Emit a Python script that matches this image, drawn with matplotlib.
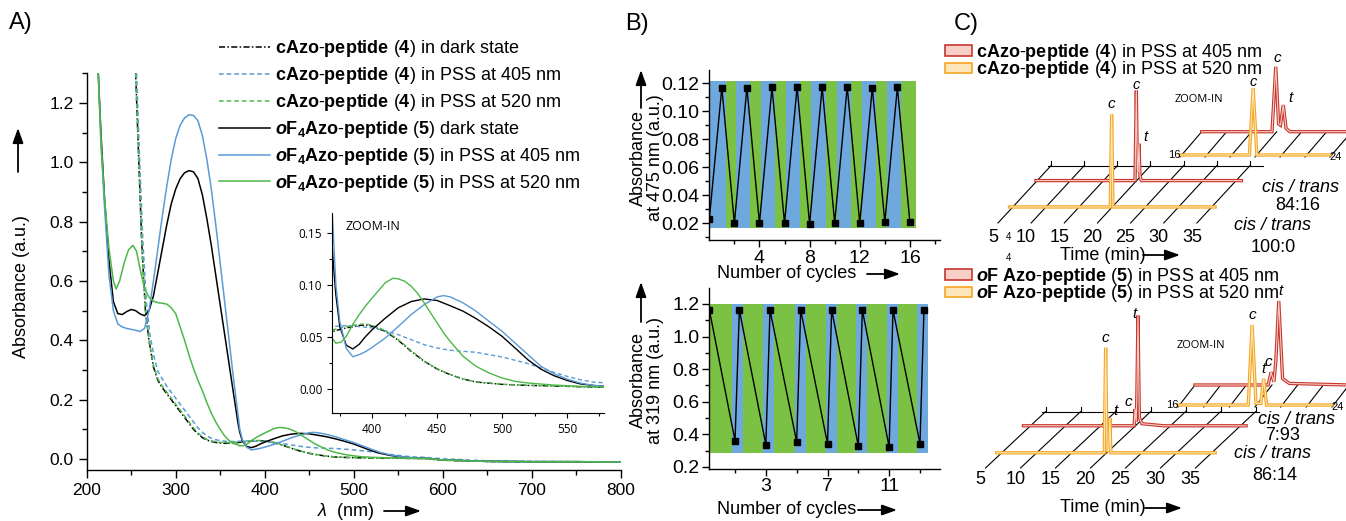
import numpy as np
import matplotlib
matplotlib.use("Agg")
import matplotlib.pyplot as plt
import matplotlib.transforms as mtransforms
from matplotlib.patches import Patch
from matplotlib.ticker import MultipleLocator, FixedLocator, FormatStrFormatter

plt.rcParams["font.family"] = ["Liberation Sans", "DejaVu Sans"]
plt.rcParams["mathtext.fontset"] = "custom"
plt.rcParams["mathtext.rm"] = "Liberation Sans"
plt.rcParams["mathtext.it"] = "Liberation Sans:italic"
plt.rcParams["mathtext.bf"] = "Liberation Sans:bold"
plt.rcParams["mathtext.bfit"] = "Liberation Sans:bold:italic"

# ---------------- panel A: spectra, (wavelength nm, absorbance) ----------------
cazo_dark = [(255, 1.30), (258, 1.05), (262, 0.72), (266, 0.50), (270, 0.40), (275, 0.31),
             (280, 0.265), (285, 0.24), (290, 0.22), (295, 0.20), (300, 0.18), (305, 0.16),
             (310, 0.14), (315, 0.12), (320, 0.10), (325, 0.085), (330, 0.072), (335, 0.064),
             (340, 0.059), (345, 0.056), (350, 0.054), (355, 0.053), (360, 0.053), (365, 0.054),
             (370, 0.0555), (380, 0.0587), (390, 0.061), (395, 0.0615), (400, 0.0603),
             (410, 0.0554), (420, 0.0468), (430, 0.0362), (440, 0.0266), (450, 0.0192),
             (460, 0.0138), (470, 0.0096), (480, 0.0067), (500, 0.0045), (520, 0.0035),
             (540, 0.0029), (560, 0.0022), (580, 0.0016), (600, -0.004), (650, -0.008),
             (700, -0.009), (750, -0.009), (800, -0.010)]
cazo_405 = [(256, 1.30), (259, 1.05), (263, 0.74), (267, 0.53), (271, 0.42), (276, 0.34),
            (280, 0.295), (285, 0.27), (290, 0.245), (295, 0.225), (300, 0.205), (305, 0.185),
            (310, 0.165), (315, 0.145), (320, 0.125), (325, 0.105), (330, 0.09), (335, 0.078),
            (340, 0.07), (345, 0.065), (350, 0.062), (355, 0.06), (360, 0.059), (365, 0.059),
            (370, 0.060), (380, 0.061), (390, 0.060), (400, 0.0587), (410, 0.056),
            (420, 0.0522), (430, 0.0474), (440, 0.0426), (450, 0.0394), (460, 0.0372),
            (470, 0.0362), (480, 0.0353), (490, 0.033), (500, 0.0308), (510, 0.0276),
            (520, 0.0244), (530, 0.0202), (540, 0.016), (550, 0.0122), (560, 0.009),
            (570, 0.0067), (580, 0.0058), (600, 0.001), (650, -0.006), (700, -0.008),
            (750, -0.009), (800, -0.009)]
cazo_520 = [(255, 1.30), (258, 1.04), (262, 0.71), (266, 0.50), (270, 0.40), (275, 0.315),
            (280, 0.27), (285, 0.245), (290, 0.225), (295, 0.205), (300, 0.185), (305, 0.165),
            (310, 0.145), (315, 0.125), (320, 0.105), (325, 0.088), (330, 0.075), (335, 0.066),
            (340, 0.061), (345, 0.058), (350, 0.056), (355, 0.055), (360, 0.055), (365, 0.056),
            (370, 0.057), (380, 0.060), (390, 0.0622), (395, 0.0625), (400, 0.0612),
            (410, 0.0562), (420, 0.0475), (430, 0.0368), (440, 0.027), (450, 0.0195),
            (460, 0.014), (470, 0.0098), (480, 0.0068), (500, 0.0046), (520, 0.0036),
            (540, 0.003), (560, 0.0023), (580, 0.0018), (600, -0.004), (650, -0.008),
            (700, -0.009), (750, -0.009), (800, -0.010)]
of4_dark = [(213, 1.30), (216, 1.10), (220, 0.88), (225, 0.67), (230, 0.53), (235, 0.49),
            (240, 0.487), (245, 0.497), (250, 0.504), (255, 0.50), (260, 0.489), (265, 0.483),
            (270, 0.50), (275, 0.55), (280, 0.63), (285, 0.71), (290, 0.79), (295, 0.86),
            (300, 0.91), (305, 0.945), (310, 0.965), (315, 0.972), (320, 0.968), (325, 0.945),
            (330, 0.89), (335, 0.81), (340, 0.72), (345, 0.62), (350, 0.52), (355, 0.42),
            (360, 0.32), (365, 0.22), (370, 0.121), (372, 0.09), (375, 0.06), (380, 0.042),
            (385, 0.0385), (390, 0.043), (395, 0.0506), (400, 0.057), (410, 0.068),
            (420, 0.078), (430, 0.084), (440, 0.0865), (450, 0.085), (460, 0.080),
            (470, 0.0747), (480, 0.0676), (490, 0.0596), (500, 0.0506), (510, 0.0394),
            (520, 0.028), (530, 0.019), (540, 0.0128), (550, 0.0083), (560, 0.005),
            (570, 0.0035), (580, 0.0025), (600, -0.003), (650, -0.008), (700, -0.009),
            (750, -0.009), (800, -0.010)]
of4_405 = [(213, 1.30), (216, 1.08), (220, 0.85), (225, 0.62), (230, 0.50), (235, 0.455),
           (240, 0.445), (245, 0.44), (250, 0.437), (255, 0.434), (260, 0.43), (265, 0.44),
           (270, 0.50), (275, 0.60), (280, 0.71), (285, 0.82), (290, 0.92), (295, 1.01),
           (300, 1.08), (305, 1.125), (310, 1.15), (315, 1.16), (320, 1.158), (325, 1.14),
           (330, 1.09), (335, 1.01), (340, 0.91), (345, 0.79), (350, 0.66), (355, 0.53),
           (360, 0.40), (365, 0.27), (370, 0.15), (372, 0.10), (375, 0.065), (380, 0.039),
           (385, 0.031), (390, 0.033), (395, 0.036), (400, 0.040), (410, 0.049), (420, 0.060),
           (430, 0.0715), (440, 0.081), (450, 0.0885), (455, 0.0897), (460, 0.0885),
           (470, 0.0827), (480, 0.0747), (490, 0.065), (500, 0.0554), (510, 0.0442),
           (520, 0.033), (530, 0.0218), (540, 0.0147), (550, 0.0096), (560, 0.0058),
           (570, 0.0035), (580, 0.0026), (600, -0.003), (650, -0.008), (700, -0.009),
           (750, -0.009), (800, -0.010)]
of4_520 = [(213, 1.30), (216, 1.06), (220, 0.88), (225, 0.71), (230, 0.60), (233, 0.573),
           (237, 0.60), (242, 0.66), (247, 0.705), (252, 0.72), (256, 0.70), (260, 0.64),
           (265, 0.575), (270, 0.545), (275, 0.532), (280, 0.527), (285, 0.525), (290, 0.522),
           (295, 0.51), (300, 0.49), (305, 0.445), (310, 0.40), (315, 0.35), (320, 0.305),
           (325, 0.265), (330, 0.23), (335, 0.19), (340, 0.155), (345, 0.125), (350, 0.10),
           (355, 0.078), (360, 0.062), (365, 0.052), (370, 0.0474), (372, 0.044), (376, 0.045),
           (380, 0.0506), (385, 0.062), (390, 0.0715), (395, 0.080), (400, 0.0875),
           (410, 0.102), (416, 0.1064), (420, 0.1058), (425, 0.1035), (430, 0.0987),
           (435, 0.0917), (440, 0.0827), (445, 0.073), (450, 0.0635), (455, 0.0538),
           (460, 0.0458), (470, 0.0314), (480, 0.0218), (490, 0.0154), (500, 0.0106),
           (510, 0.0074), (520, 0.0058), (540, 0.0038), (560, 0.0026), (580, 0.002),
           (600, -0.003), (650, -0.008), (700, -0.009), (750, -0.009), (800, -0.010)]

# ---------------- panel B: switching cycles ----------------
cyc_475 = np.arange(17)
abs_475 = [0.0229, 0.1169, 0.0200, 0.1169, 0.0200, 0.1171, 0.0200, 0.1174, 0.0195,
           0.1174, 0.0202, 0.1176, 0.0200, 0.1167, 0.0207, 0.1171, 0.0207]
stripes_475 = [0, 1.30, 2.13, 3.27, 4.12, 5.27, 6.14, 7.26, 8.14, 9.28, 10.16, 11.30,
               12.18, 13.30, 14.18, 15.32, 16.49]          # blue first
cyc_319 = [-0.665, 1, 1.28, 3, 3.27, 5, 5.26, 7, 7.27, 9, 9.26, 11, 11.25, 13, 13.26]
abs_319 = [1.163, 0.360, 1.163, 0.337, 1.163, 0.353, 1.163, 0.343, 1.163, 0.329, 1.163,
           0.323, 1.163, 0.343, 1.163]
stripes_319 = [-0.67, 0.78, 1.54, 2.84, 3.56, 4.90, 5.63, 6.88, 7.59, 8.84, 9.57, 10.87,
               11.59, 12.78, 13.50]                          # green first

# ---------------- panel C: HPLC traces, (time min, rel. intensity) ----------------
c4_405_t = [4.8, 16, 19.75, 19.95, 20.1, 20.2, 20.35, 20.5, 20.7, 24, 35.8]
c4_405_i = [0, 0, 0, 1.0, 0.12, 0.10, 0.41, 0.05, 0, 0, 0]
c4_520_t = [4.5, 16, 19.7, 19.9, 20.1, 24, 35.5]
c4_520_i = [0, 0, 0, 1.03, 0, 0, 0]
f5_405_t = [4.0, 16, 19.8, 19.95, 20.1, 20.2, 20.35, 20.55, 20.9, 24, 35.8]
f5_405_i = [0, 0, 0, 0.16, 0.04, 0.3, 1.05, 0.08, 0.02, 0, 0]
f5_520_t = [4.3, 16, 19.65, 19.85, 20.05, 20.3, 20.45, 20.6, 24, 35.5]
f5_520_i = [0, 0, 0, 1.0, 0.02, 0.02, 0.33, 0, 0, 0]
time_ticks = [5, 10, 15, 20, 25, 30, 35]

BLUE = "#5b9bd5"
GREEN = "#4db848"
B_BLUE = "#6ea8dc"
B_GREEN = "#7bc143"
RED = "#c8372d"
RED_L = "#f7cfc8"
ORG = "#f5a623"
ORG_L = "#fde7b8"

W, H = 1346, 521
fig = plt.figure(figsize=(W / 100, H / 100), dpi=100)


def box(left, top, right, bottom):
    return [left / W, 1 - bottom / H, (right - left) / W, (bottom - top) / H]


def style(ax, size, lw=1.0, major=6, minor=3.5, pad=3.5):
    for s in ["top", "right"]:
        ax.spines[s].set_visible(False)
    for s in ["left", "bottom"]:
        ax.spines[s].set_linewidth(lw)
    ax.tick_params(which="both", direction="out", width=lw, labelsize=size, pad=pad)
    ax.tick_params(which="major", length=major)
    ax.tick_params(which="minor", length=minor)


def stripes(ax, edges, ylo, yhi, first, second):
    edges = np.asarray(edges, float)
    cols = [first if i % 2 == 0 else second for i in range(len(edges) - 1)]
    ax.bar(edges[:-1], yhi - ylo, width=np.diff(edges), bottom=ylo, align="edge",
           color=cols, lw=0, zorder=1)


# ---- A main
axA = fig.add_axes(box(86.7, 73.3, 620.7, 470))
dash_dot = (0, (4, 1.5, 1, 1.5))
dashed = (0, (3, 2))
series = [
    (cazo_dark, "k", dash_dot,
     r"$\mathbf{cAzo}$-$\mathbf{peptide}$ ($\mathbf{4}$) in dark state"),
    (cazo_405, BLUE, dashed,
     r"$\mathbf{cAzo}$-$\mathbf{peptide}$ ($\mathbf{4}$) in PSS at 405 nm"),
    (cazo_520, GREEN, dashed,
     r"$\mathbf{cAzo}$-$\mathbf{peptide}$ ($\mathbf{4}$) in PSS at 520 nm"),
    (of4_dark, "k", "-",
     r"$\mathbfit{o}\mathbf{F_4Azo}$-$\mathbf{peptide}$ ($\mathbf{5}$) dark state"),
    (of4_405, BLUE, "-",
     r"$\mathbfit{o}\mathbf{F_4Azo}$-$\mathbf{peptide}$ ($\mathbf{5}$) in PSS at 405 nm"),
    (of4_520, GREEN, "-",
     r"$\mathbfit{o}\mathbf{F_4Azo}$-$\mathbf{peptide}$ ($\mathbf{5}$) in PSS at 520 nm"),
]
for pts, col, ls, lab in series:
    wl, ab = np.array(pts).T
    axA.plot(wl, ab, color=col, ls=ls, lw=1.1, label=lab)
axA.set_xlim(200, 800)
axA.set_ylim(-0.037, 1.3)
axA.xaxis.set_major_locator(MultipleLocator(100))
axA.xaxis.set_minor_locator(MultipleLocator(50))
axA.yaxis.set_major_locator(MultipleLocator(0.2))
axA.yaxis.set_minor_locator(MultipleLocator(0.1))
axA.yaxis.set_major_formatter(FormatStrFormatter("%.1f"))
style(axA, 12.5)
axA.legend(loc="upper left", bbox_to_anchor=(219 / W, 1 - 38 / H),
           bbox_transform=fig.transFigure, frameon=False, fontsize=13,
           handlelength=2.8, handletextpad=0.3, labelspacing=0.33,
           borderpad=0, borderaxespad=0)

# ---- A inset
axI = fig.add_axes(box(332, 213, 604, 413))
for pts, col, ls, lab in series:
    wl, ab = np.array(pts).T
    axI.plot(wl, ab, color=col, ls=ls, lw=1.0)
axI.set_xlim(369, 578.5)
axI.set_ylim(-0.023, 0.169)
axI.xaxis.set_major_locator(FixedLocator([400, 450, 500, 550]))
axI.xaxis.set_minor_locator(MultipleLocator(25))
axI.yaxis.set_major_locator(MultipleLocator(0.05))
axI.yaxis.set_minor_locator(MultipleLocator(0.025))
axI.yaxis.set_major_formatter(FormatStrFormatter("%.2f"))
style(axI, 8.5, lw=0.8, major=3.5, minor=2)
axI.tick_params(labelfontfamily="Open Sans")
axI.text(0.05, 0.93, "ZOOM-IN", transform=axI.transAxes, fontsize=9,
         family="Open Sans", va="center")

# ---- B top
axB1 = fig.add_axes(box(709.3, 70, 940, 240))
stripes(axB1, stripes_475, 0.0165, 0.1217, B_BLUE, B_GREEN)
axB1.plot(cyc_475, abs_475, color="k", lw=1.0, marker="s", ms=4.5, zorder=3)
axB1.set_xlim(0, 18.4)
axB1.set_ylim(0.0081, 0.1295)
axB1.xaxis.set_major_locator(FixedLocator([4, 8, 12, 16]))
axB1.xaxis.set_minor_locator(FixedLocator([2, 6, 10, 14, 18]))
axB1.yaxis.set_major_locator(MultipleLocator(0.02))
axB1.yaxis.set_minor_locator(MultipleLocator(0.01))
axB1.yaxis.set_major_formatter(FormatStrFormatter("%.2f"))
style(axB1, 14, major=5, minor=3, pad=2)

# ---- B bottom
axB2 = fig.add_axes(box(709.3, 288, 940, 468.6))
stripes(axB2, stripes_319, 0.288, 1.198, B_GREEN, B_BLUE)
axB2.plot(cyc_319, abs_319, color="k", lw=1.0, marker="s", ms=4.5, zorder=3)
axB2.set_xlim(-0.67, 14.3)
axB2.set_ylim(0.19, 1.298)
axB2.xaxis.set_major_locator(FixedLocator([3, 7, 11]))
axB2.xaxis.set_minor_locator(FixedLocator([1, 5, 9, 13]))
axB2.yaxis.set_major_locator(MultipleLocator(0.2))
axB2.yaxis.set_minor_locator(MultipleLocator(0.1))
axB2.yaxis.set_major_formatter(FormatStrFormatter("%.1f"))
style(axB2, 14, major=5, minor=3, pad=2)

# ---- overlay in pixel units for labels, arrows and panel C
ov = fig.add_axes([0, 0, 1, 1])
ov.set_xlim(0, W)
ov.set_ylim(H, 0)
ov.axis("off")
ov.patch.set_alpha(0)


def arrow(x0, y0, x1, y1):
    ov.annotate("", xy=(x1, y1), xytext=(x0, y0),
                arrowprops=dict(arrowstyle="-|>,head_length=0.9,head_width=0.32",
                                lw=1.3, color="k", shrinkA=0, shrinkB=0))


ov.text(21, 23, "A)", fontsize=17, ha="center", va="center")
ov.text(637, 24, "B)", fontsize=17, ha="center", va="center")
ov.text(966, 24, "C)", fontsize=17, ha="center", va="center")

ov.text(22, 287, "Absorbance (a.u.)", rotation=90, fontsize=13, ha="center", va="center")
arrow(18, 172, 18, 128)
ov.text(346, 511, r"$\lambda$  (nm)", fontsize=13, ha="center", va="center")
arrow(384, 511, 421, 511)

ov.text(647, 158, "Absorbance\nat 475 nm (a.u.)", rotation=90, fontsize=13,
        ha="center", va="center", linespacing=1.0)
arrow(641, 108, 641, 70)
ov.text(787, 274, "Number of cycles", fontsize=13, ha="center", va="center")
arrow(867, 274, 900, 274)
ov.text(647, 380, "Absorbance\nat 319 nm (a.u.)", rotation=90, fontsize=13,
        ha="center", va="center", linespacing=1.0)
arrow(641, 322, 641, 282)
ov.text(787, 510, "Number of cycles", fontsize=13, ha="center", va="center")
arrow(858, 510, 897, 510)


# ---- panel C
def plane(x0, y0, t0, s, k):
    m = np.array([[s, 0, x0 - t0 * s], [0, -k, y0], [0, 0, 1.0]])
    return mtransforms.Affine2D(m) + ov.transData


def trace(tr, t, i, col, light, tmin=None, tmax=None):
    t = np.asarray(t, float)
    i = np.asarray(i, float)
    if tmin is not None:
        keep = (t >= tmin) & (t <= tmax)
        t, i = t[keep], i[keep]
    ov.plot(t, i, color=col, lw=2.4, transform=tr, solid_joinstyle="miter")
    ov.plot(t, i, color=light, lw=0.8, transform=tr)


def peak_label(tr, t, i, txt, dx, dy, size=11):
    tt = mtransforms.offset_copy(tr, fig=fig, x=dx, y=dy, units="dots")
    ov.text(t, i, txt, transform=tt, fontsize=size, style="italic", ha="center", va="bottom")


def stack(front, dvec, s, k, t0, d_org, d_red, t_org, i_org, t_red, i_red, back_t1, lab_y):
    fx0, fy0 = front
    for t in time_ticks:
        xa = fx0 + (t - t0) * s
        ov.plot([xa, xa + dvec[0]], [fy0, fy0 + dvec[1]], color="k", lw=0.8)
        ov.plot([xa + dvec[0]] * 2, [fy0 + dvec[1], fy0 + dvec[1] - 5], color="k", lw=0.8)
        ov.text(xa - 5, lab_y, str(t), fontsize=13, ha="center", va="center")
    xb0 = fx0 + (4.5 - t0) * s + dvec[0]
    xb1 = fx0 + (back_t1 - t0) * s + dvec[0]
    ov.plot([xb0, xb1], [fy0 + dvec[1]] * 2, color="k", lw=0.8)
    tr_o = plane(fx0 + d_org * dvec[0], fy0 + d_org * dvec[1], t0, s, k)
    tr_r = plane(fx0 + d_red * dvec[0], fy0 + d_red * dvec[1], t0, s, k)
    trace(tr_r, t_red, i_red, RED, RED_L)
    trace(tr_o, t_org, i_org, ORG, ORG_L)
    return tr_o, tr_r


def zoom_stack(org0, red0, s, k, t_org, i_org, t_red, i_red):
    for t in np.linspace(16, 24, 7):
        ov.plot([org0[0] + (t - 16) * s, red0[0] + (t - 16) * s],
                [org0[1] + 2, red0[1]], color="k", lw=0.8)
    tr_o = plane(org0[0], org0[1], 16, s, k)
    tr_r = plane(red0[0], red0[1], 16, s, k)
    trace(tr_r, t_red, i_red, RED, RED_L, 16, 24)
    trace(tr_o, t_org, i_org, ORG, ORG_L, 16, 24)
    ov.text(org0[0] - 6, org0[1], "16", fontsize=8, ha="center", va="center")
    ov.text(org0[0] + 8 * s + 6, org0[1] + 2, "24", fontsize=8, ha="center", va="center")
    return tr_o, tr_r


# top: compound 4
tro, trr = stack((998, 223), (53, -57.3), 6.63, 90, 5, 0.28, 0.74,
                 c4_520_t, c4_520_i, c4_405_t, c4_405_i, 37, 238)
peak_label(tro, 19.9, 1.03, "c", 0, 3)
peak_label(trr, 19.95, 1.0, "c", 0, -1, 10.5)
peak_label(trr, 20.35, 0.41, "t", 6, 0)
zo, zr = zoom_stack((1180, 155), (1201.7, 131.7), 18.75, 65,
                    c4_520_t, c4_520_i, c4_405_t, c4_405_i)
peak_label(zo, 19.9, 1.03, "c", 0, -1, 10.5)
peak_label(zr, 19.95, 1.0, "c", 2, 2)
peak_label(zr, 20.35, 0.41, "t", 7, 0)
ov.text(1175, 100, "ZOOM-IN", fontsize=8, family="Open Sans", va="center")
ov.text(1300, 188, "cis / trans", fontsize=13, style="italic", ha="center", va="center")
ov.text(1298, 205, "84:16", fontsize=13, ha="center", va="center")
ov.text(1272, 225, "cis / trans", fontsize=13, style="italic", ha="center", va="center")
ov.text(1273, 247, "100:0", fontsize=13, ha="center", va="center")
ov.text(1103, 255, "Time (min)", fontsize=13, ha="center", va="center")
arrow(1143, 255, 1180, 255)
ov.text(1008, 237, "4", fontsize=7, ha="center", va="center")
ov.text(1008, 258, "4", fontsize=7, ha="center", va="center")

# bottom: compound 5
tro, trr = stack((985.5, 468), (60, -56.3), 7.0, 105, 5, 0.27, 0.75,
                 f5_520_t, f5_520_i, f5_405_t, f5_405_i, 35.5, 480)
peak_label(tro, 19.85, 1.0, "c", 0, 3)
peak_label(tro, 20.45, 0.33, "t", 6, 0)
peak_label(trr, 19.95, 0.16, "c", -7, 0)
peak_label(trr, 20.35, 1.05, "t", -4, -5)
zo, zr = zoom_stack((1178, 405), (1195, 385), 19.25, 80,
                    f5_520_t, f5_520_i, f5_405_t, f5_405_i)
peak_label(zo, 19.85, 1.0, "c", 0, 3)
peak_label(zo, 20.45, 0.33, "t", 0, 3)
peak_label(zr, 19.95, 0.16, "c", -3, 3)
peak_label(zr, 20.35, 1.05, "t", 2, 3)
ov.text(1177, 345, "ZOOM-IN", fontsize=8, family="Open Sans", va="center")
ov.text(1297, 419, "cis / trans", fontsize=13, style="italic", ha="center", va="center")
ov.text(1283, 436, "7:93", fontsize=13, ha="center", va="center")
ov.text(1273, 453, "cis / trans", fontsize=13, style="italic", ha="center", va="center")
ov.text(1275, 475, "86:14", fontsize=13, ha="center", va="center")
ov.text(1103, 508, "Time (min)", fontsize=13, ha="center", va="center")
arrow(1145, 508, 1182, 508)

# panel C legends
lab4 = [r"$\mathbf{cAzo}$-$\mathbf{peptide}$ ($\mathbf{4}$) in PSS at 405 nm",
        r"$\mathbf{cAzo}$-$\mathbf{peptide}$ ($\mathbf{4}$) in PSS at 520 nm"]
lab5 = [r"$\mathbfit{o}\mathbf{F}$ $\mathbf{Azo}$-$\mathbf{peptide}$ ($\mathbf{5}$) in PSS at 405 nm",
        r"$\mathbfit{o}\mathbf{F}$ $\mathbf{Azo}$-$\mathbf{peptide}$ ($\mathbf{5}$) in PSS at 520 nm"]
for labs, top in [(lab4, 42), (lab5, 266)]:
    hs = [Patch(facecolor=RED_L, edgecolor=RED, lw=1.2),
          Patch(facecolor=ORG_L, edgecolor=ORG, lw=1.2)]
    fig.legend(hs, labs, loc="upper left", bbox_to_anchor=(945 / W, 1 - top / H),
               frameon=False, fontsize=13, handlelength=1.5, handleheight=0.5,
               handletextpad=0.2, labelspacing=-0.2, borderpad=0, borderaxespad=0)

fig.savefig("out.png", dpi=100)
